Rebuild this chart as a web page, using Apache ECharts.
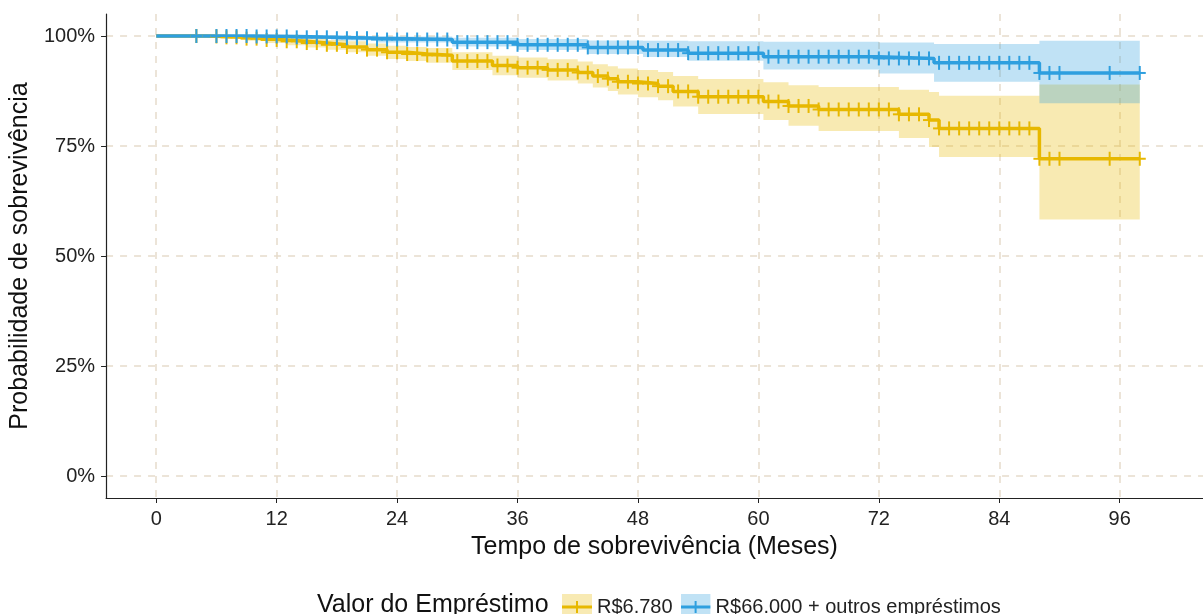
<!DOCTYPE html>
<html><head><meta charset="utf-8">
<script src="https://cdn.jsdelivr.net/npm/echarts@6/dist/echarts.min.js"></script>
<style>html,body{margin:0;padding:0;background:#fff}#c{width:1203px;height:614px}</style>
</head><body><div id="c"></div>
<script>
// ---- data ----
const xTicks = [0, 12, 24, 36, 48, 60, 72, 84, 96];
const yTicks = [0, 25, 50, 75, 100];
const legendTitle = 'Valor do Empréstimo';
const groupNames = ['R$6.780', 'R$66.000 + outros empréstimos'];

// Group 1: R$6.780 (step change times, survival %, CI)
const lowTime  = [0, 5, 7, 9, 11, 13, 15, 17, 19, 21, 23, 25, 27, 29.5, 33.5, 36, 39, 42, 43.5, 45, 46, 48, 50, 51.5, 54, 60.5, 63, 66, 74, 77, 78, 88, 98];
const lowSurv  = [100, 99.9, 99.7, 99.4, 99.1, 98.8, 98.4, 98.0, 97.5, 96.9, 96.3, 95.9, 95.6, 94.3, 93.3, 92.8, 92.3, 91.7, 90.9, 90.3, 89.6, 89.2, 88.6, 87.4, 86.2, 85.1, 84.1, 83.3, 82.2, 80.9, 79.0, 72.1, 72.1];
const lowUpper = [100, 100, 100, 100, 99.9, 99.7, 99.4, 99.1, 98.8, 98.3, 97.8, 97.5, 97.3, 96.3, 95.5, 95.1, 94.7, 94.2, 93.6, 93.1, 92.6, 92.3, 91.8, 90.9, 90.2, 89.5, 88.8, 88.4, 87.8, 87.3, 86.4, 89.0, 89.0];
const lowLower = [100, 99.8, 99.4, 98.9, 98.4, 97.9, 97.4, 96.9, 96.3, 95.5, 94.8, 94.3, 93.9, 92.3, 91.1, 90.5, 89.9, 89.2, 88.3, 87.5, 86.7, 86.1, 85.4, 84.0, 82.3, 80.9, 79.6, 78.4, 76.8, 74.8, 72.5, 58.3, 58.3];

// Group 2: R$66.000 + outros empréstimos
const highTime  = [0, 10, 14, 18, 22, 29.5, 36, 43, 48.5, 53, 60.5, 72, 77.5, 88, 98];
const highSurv  = [100, 99.9, 99.7, 99.5, 99.2, 98.6, 98.0, 97.4, 96.8, 96.1, 95.3, 94.9, 93.9, 91.6, 91.6];
const highUpper = [100, 100, 100, 100, 99.9, 99.6, 99.3, 99.0, 98.9, 98.8, 98.7, 98.5, 98.2, 98.9, 98.9];
const highLower = [100, 99.7, 99.3, 99.0, 98.5, 97.6, 96.8, 95.9, 95.2, 94.4, 92.4, 91.5, 89.6, 84.7, 84.7];

// Censoring times (months)
const censorTimes = [4, 6, 7, 8, 9, 10, 11, 12, 13, 14, 15, 16, 17, 18, 19, 20, 21, 22, 23, 24, 25, 26, 27, 28, 29, 30,
  31, 32, 33, 34, 35, 36, 37, 38, 39, 40, 41, 42, 43, 44, 45, 46, 47, 48, 49, 50, 51, 52, 53, 54, 55, 56, 57, 58, 59, 60,
  61, 62, 63, 64, 65, 66, 67, 68, 69, 70, 71, 72, 73, 74, 75, 76, 77, 78, 79, 80, 81, 82, 83, 84, 85, 86, 87, 88, 89, 90, 95, 98];

// ---- styles ----
const colLow = '#E7B800', colHigh = '#2E9FDF';
const fillLow = 'rgba(231,184,0,0.3)', fillHigh = 'rgba(46,159,223,0.3)';
const FONT = '"Liberation Sans", Arial, Helvetica, sans-serif';

function survAt(times, vals, t) {
  let v = vals[0];
  for (let i = 0; i < times.length; i++) { if (times[i] <= t) v = vals[i]; }
  return v;
}
function lineSeries(name, times, surv, color) {
  return {
    name, type: 'line', step: 'end', symbol: 'none', showSymbol: false, z: 3,
    data: times.map((t, i) => [t, surv[i]]),
    lineStyle: { color, width: 3.5 }, itemStyle: { color }, silent: true
  };
}
function bandSeries(times, lower, upper, fill) {
  return {
    type: 'custom', silent: true, z: 2, data: [[times[0], upper[0]]],
    encode: { x: 0, y: 1 },
    renderItem: (params, api) => {
      const pts = [];
      for (let i = 0; i < times.length - 1; i++) {
        pts.push(api.coord([times[i], upper[i]]));
        pts.push(api.coord([times[i + 1], upper[i]]));
      }
      for (let i = times.length - 2; i >= 0; i--) {
        pts.push(api.coord([times[i + 1], lower[i]]));
        pts.push(api.coord([times[i], lower[i]]));
      }
      return { type: 'polygon', shape: { points: pts }, style: { fill } };
    }
  };
}
function censorSeries(times, surv, color) {
  return {
    type: 'custom', silent: true, z: 4,
    data: censorTimes.map(t => [t, survAt(times, surv, t)]),
    encode: { x: 0, y: 1 },
    renderItem: (params, api) => {
      const p = api.coord([api.value(0), api.value(1)]);
      const st = { stroke: color, lineWidth: 2 };
      return { type: 'group', children: [
        { type: 'line', shape: { x1: p[0] - 6, y1: p[1], x2: p[0] + 6, y2: p[1] }, style: st },
        { type: 'line', shape: { x1: p[0], y1: p[1] - 7, x2: p[0], y2: p[1] + 7 }, style: st }
      ]};
    }
  };
}
function keyIcon(fill, color) {
  const svg = "<svg xmlns='http://www.w3.org/2000/svg' width='30' height='26'>" +
    "<rect width='30' height='26' fill='" + fill + "'/>" +
    "<line x1='0' y1='13' x2='30' y2='13' stroke='" + color + "' stroke-width='3'/>" +
    "<line x1='15' y1='7' x2='15' y2='19' stroke='" + color + "' stroke-width='2'/></svg>";
  return 'image://data:image/svg+xml;charset=utf-8,' + encodeURIComponent(svg);
}

const gridLine = { show: true, lineStyle: { color: '#e6dccb', width: 1.5, type: [7, 7] } };
const axisLine = { show: true, onZero: false, lineStyle: { color: '#222', width: 1.2 } };

const chart = echarts.init(document.getElementById('c'), null, { renderer: 'canvas' });
chart.setOption({
  backgroundColor: '#fff',
  animation: false,
  textStyle: { fontFamily: FONT },
  title: {
    text: legendTitle, left: 312, top: 588,
    textStyle: { fontFamily: FONT, fontSize: 25, fontWeight: 'normal', color: '#111' }
  },
  legend: {
    left: 557, top: 589, itemWidth: 30, itemHeight: 26, itemGap: 8,
    textStyle: { fontFamily: FONT, fontSize: 20, color: '#222' },
    data: [
      { name: groupNames[0], icon: keyIcon('rgb(248,234,179)', colLow) },
      { name: groupNames[1], icon: keyIcon('rgb(192,226,245)', colHigh) }
    ]
  },
  grid: { left: 106, top: 14, width: 1097, height: 484 },
  xAxis: {
    type: 'value', min: -5, max: 104.3,
    axisLine, axisTick: { show: true, length: 5, customValues: xTicks, lineStyle: { color: '#222' } },
    axisLabel: { customValues: xTicks, fontSize: 20, color: '#222', margin: 11, fontFamily: FONT },
    splitLine: gridLine,
    name: 'Tempo de sobrevivência (Meses)', nameLocation: 'middle', nameGap: 37,
    nameTextStyle: { fontSize: 25, color: '#111', fontFamily: FONT }
  },
  yAxis: {
    type: 'value', min: -5, max: 105,
    axisLine, axisTick: { show: true, length: 5, customValues: yTicks, lineStyle: { color: '#222' } },
    axisLabel: { customValues: yTicks, formatter: '{value}%', fontSize: 20, color: '#222', margin: 11, fontFamily: FONT },
    splitLine: gridLine,
    name: 'Probabilidade de sobrevivência', nameLocation: 'middle', nameGap: 66,
    nameTextStyle: { fontSize: 25, color: '#111', fontFamily: FONT }
  },
  series: [
    bandSeries(lowTime, lowLower, lowUpper, fillLow),
    bandSeries(highTime, highLower, highUpper, fillHigh),
    lineSeries(groupNames[0], lowTime, lowSurv, colLow),
    lineSeries(groupNames[1], highTime, highSurv, colHigh),
    censorSeries(lowTime, lowSurv, colLow),
    censorSeries(highTime, highSurv, colHigh)
  ]
});
</script></body></html>
